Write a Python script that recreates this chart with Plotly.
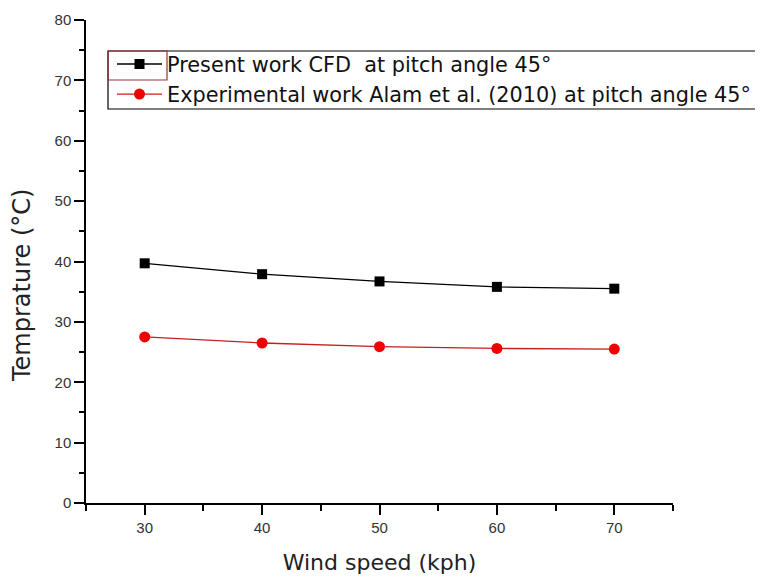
import plotly.graph_objects as go

wind_speed = [30, 40, 50, 60, 70]
cfd_temp = [39.7, 37.9, 36.7, 35.8, 35.5]
exp_temp = [27.5, 26.5, 25.9, 25.6, 25.5]

name_cfd = "Present work CFD  at pitch angle 45°"
name_exp = "Experimental work Alam et al. (2010) at pitch angle 45°"

fig = go.Figure()
fig.add_trace(go.Scatter(
    x=wind_speed, y=cfd_temp, mode="lines+markers", name=name_cfd,
    line=dict(color="black", width=1.3),
    marker=dict(symbol="square", size=10, color="black"),
))
fig.add_trace(go.Scatter(
    x=wind_speed, y=exp_temp, mode="lines+markers", name=name_exp,
    line=dict(color="#c81e1e", width=1.3),
    marker=dict(symbol="circle", size=11, color="#f00000"),
))

# page has an 8px body margin, so the figure is drawn at an (8, 8) offset
OFF = 8
W, H = 755, 570
ml, mr, mt, mb = 78, 90, 12, 75
pw, ph = W - ml - mr, H - mt - mb

def px(xp):
    return (xp - OFF - ml) / pw

def py(yp):
    return (H - mb - (yp - OFF)) / ph

tickfont = dict(family="Liberation Sans, Arial, sans-serif", size=15, color="#333333")
titlefont = dict(family="DejaVu Sans, sans-serif", size=22, color="#222222")

fig.update_layout(
    width=W, height=H,
    margin=dict(l=ml, r=mr, t=mt, b=mb, autoexpand=False),
    paper_bgcolor="white", plot_bgcolor="white",
    showlegend=True,
    legend=dict(
        x=px(112), y=py(44), xanchor="left", yanchor="top",
        bgcolor="rgba(255,255,255,0)", borderwidth=0,
        font=dict(family="DejaVu Sans, sans-serif", size=20.8, color="#111111"),
        itemwidth=45, tracegroupgap=0,
    ),
    xaxis=dict(
        range=[25, 75], tickvals=[30, 40, 50, 60, 70],
        showgrid=False, zeroline=False, automargin=False,
        showline=True, linecolor="black", linewidth=1.5,
        ticks="outside", ticklen=10, tickwidth=1.5, tickcolor="black",
        minor=dict(dtick=5, tick0=25, ticks="outside", ticklen=6, tickwidth=1.5, tickcolor="black"),
        tickfont=tickfont,
        title=dict(text="Wind speed (kph)", font=titlefont, standoff=20),
    ),
    yaxis=dict(
        range=[0, 80], tickvals=[0, 10, 20, 30, 40, 50, 60, 70, 80],
        showgrid=False, zeroline=False, automargin=False,
        showline=True, linecolor="black", linewidth=1.5,
        ticks="outside", ticklen=10, tickwidth=1.5, tickcolor="black",
        minor=dict(dtick=5, tick0=0, ticks="outside", ticklen=5, tickwidth=1.5, tickcolor="black"),
        tickfont=tickfont,
    ),
    annotations=[dict(
        text="Temprature (°C)", textangle=-90, showarrow=False,
        xref="paper", yref="paper", x=px(22), y=py(286),
        xanchor="center", yanchor="middle",
        font=dict(family="DejaVu Sans, sans-serif", size=24, color="#222222"),
    )],
    shapes=[
        dict(
            type="rect", xref="paper", yref="paper",
            x0=px(108), x1=px(800), y0=py(109), y1=py(51),
            line=dict(color="black", width=1.2), fillcolor="rgba(0,0,0,0)",
            layer="above",
        ),
        dict(
            type="rect", xref="paper", yref="paper",
            x0=px(108), x1=px(167), y0=py(80), y1=py(51),
            line=dict(color="#a03030", width=1.2), fillcolor="rgba(0,0,0,0)",
            layer="above",
        ),
    ],
)

fig.write_html("out.html")
